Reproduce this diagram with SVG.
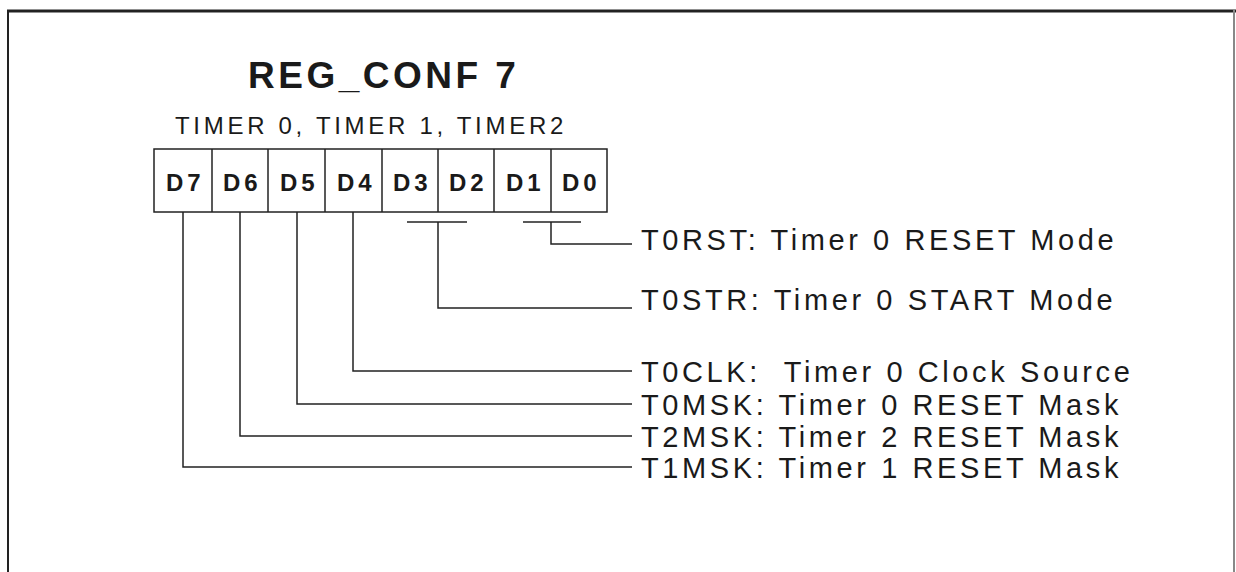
<svg xmlns="http://www.w3.org/2000/svg" width="1236" height="572" viewBox="0 0 1236 572">
<style>
.t{font-family:"Liberation Sans",Arial,sans-serif;fill:#1a1a1a;white-space:pre}
.title{font-size:37px;font-weight:bold;letter-spacing:3.5px}
.sub{font-size:24px;letter-spacing:3.7px}
.bit{font-size:24px;font-weight:bold;letter-spacing:4px}
.lbl{font-size:29px;letter-spacing:3.6px}
.ln{fill:none;stroke:#222;stroke-width:1.5}
.cell{fill:#fff;stroke:#222;stroke-width:1.5}
</style>
<rect width="1236" height="572" fill="#fff"/>
<g id="frame">
<line x1="7" y1="11" x2="1236" y2="11" stroke="#222" stroke-width="3"/>
<line x1="8" y1="10" x2="8" y2="572" stroke="#222" stroke-width="2"/>
<line x1="1234" y1="10" x2="1234" y2="572" stroke="#888" stroke-width="2"/>
</g>
<g id="title">
<text class="t title" x="248" y="88">REG_CONF 7</text>
<text class="t sub" x="175" y="134">TIMER 0, TIMER 1, TIMER2</text>
</g>
<g id="register">
<rect class="cell" x="154" y="149" width="453" height="63"/>
<line class="ln" x1="212" y1="149" x2="212" y2="212" stroke="#888"/>
<line class="ln" x1="268" y1="149" x2="268" y2="212"/>
<line class="ln" x1="325" y1="149" x2="325" y2="212"/>
<line class="ln" x1="382" y1="149" x2="382" y2="212"/>
<line class="ln" x1="438" y1="149" x2="438" y2="212"/>
<line class="ln" x1="494" y1="149" x2="494" y2="212"/>
<line class="ln" x1="551" y1="149" x2="551" y2="212"/>
<text class="t bit" x="166" y="191">D7</text>
<text class="t bit" x="223" y="191">D6</text>
<text class="t bit" x="280" y="191">D5</text>
<text class="t bit" x="337" y="191">D4</text>
<text class="t bit" x="393" y="191">D3</text>
<text class="t bit" x="449" y="191">D2</text>
<text class="t bit" x="506" y="191">D1</text>
<text class="t bit" x="562" y="191">D0</text>
</g>
<g id="connectors">
<polyline class="ln" points="523,222 581,222"/>
<polyline class="ln" points="551,222 551,244 632,244"/>
<polyline class="ln" points="407,222 467,222"/>
<polyline class="ln" points="438,222 438,308 632,308"/>
<polyline class="ln" points="353,212 353,371 632,371"/>
<polyline class="ln" points="297,212 297,404 632,404"/>
<polyline class="ln" points="240,212 240,436 632,436"/>
<polyline class="ln" points="183,212 183,467 632,467"/>
</g>
<g id="labels">
<text class="t lbl" x="641" y="250">T0RST: Timer 0 RESET Mode</text>
<text class="t lbl" x="641" y="310">T0STR: Timer 0 START Mode</text>
<text class="t lbl" x="641" y="382">T0CLK:  Timer 0 Clock Source</text>
<text class="t lbl" x="641" y="415">T0MSK: Timer 0 RESET Mask</text>
<text class="t lbl" x="641" y="447">T2MSK: Timer 2 RESET Mask</text>
<text class="t lbl" x="641" y="478">T1MSK: Timer 1 RESET Mask</text>
</g>
</svg>
